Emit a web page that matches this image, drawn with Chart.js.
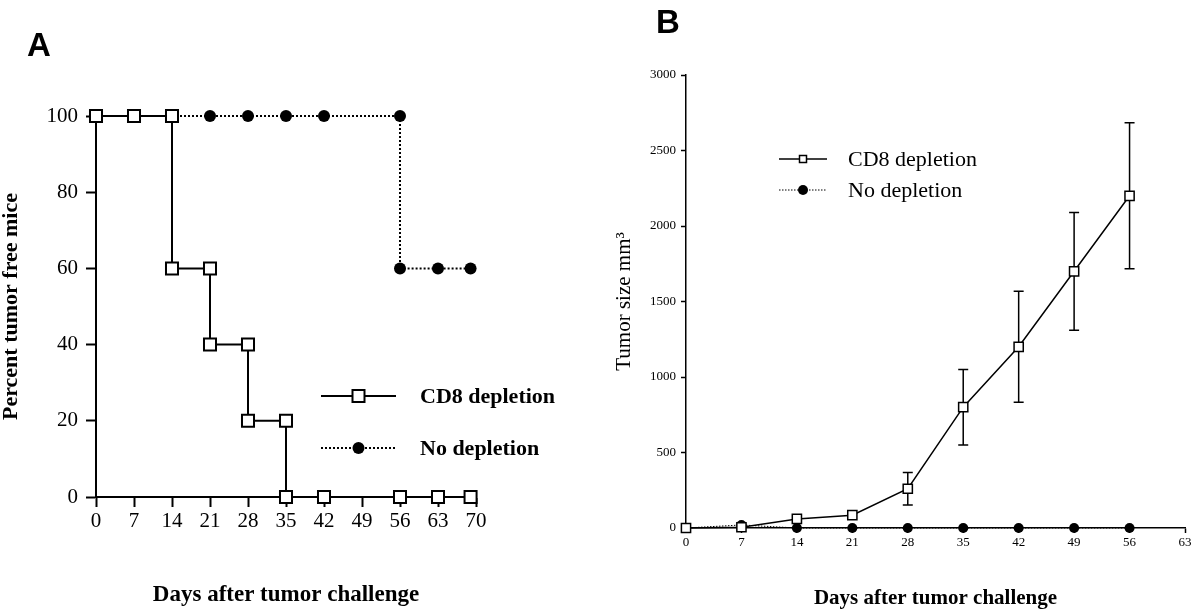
<!DOCTYPE html>
<html>
<head>
<meta charset="utf-8">
<script src="https://cdn.jsdelivr.net/npm/chart.js@4.4.1/dist/chart.umd.min.js"></script>
<style>
  html, body { margin: 0; padding: 0; background: #fff; }
  #wrap { position: relative; width: 1200px; height: 616px; }
  canvas { position: absolute; top: 0; }
</style>
</head>
<body>
<div id="wrap">
  <canvas id="chartA" width="600" height="616" style="left:0"></canvas>
  <canvas id="chartB" width="600" height="616" style="left:600px"></canvas>
</div>
<script>
// Panel A - percent tumor free mice (step curve)
const cd8Days = [0, 7, 14, 14, 21, 21, 28, 28, 35, 35, 42, 56, 63, 69];
const cd8Pct = [100, 100, 100, 60, 60, 40, 40, 20, 20, 0, 0, 0, 0, 0];
const noDepDays = [0, 7, 14, 21, 28, 35, 42, 56, 56, 63, 69];
const noDepPct = [100, 100, 100, 100, 100, 100, 100, 100, 60, 60, 60];

// Panel B - tumor size
const sizeDays = [0, 7, 14, 21, 28, 35, 42, 49, 56];
const cd8Size = [0, 5, 60, 85, 260, 800, 1200, 1700, 2200];
const cd8Err = [0, 0, 0, 0, 108, 250, 368, 390, 483];
const noDepSize = [0, 20, 0, 0, 0, 0, 0, 0, 0];

const seriesNames = ['CD8 depletion', 'No depletion'];
const xTitle = 'Days after tumor challenge';

const serif = '"Liberation Serif", "Times New Roman", serif';

const toXY = (xs, ys) => xs.map((x, i) => ({ x: x, y: ys[i] }));

// draws the legend and the panel letter
const legendPlugin = {
  id: 'handLegend',
  afterDraw(chart, args, opts) {
    const ctx = chart.ctx;
    ctx.save();
    opts.items.forEach(it => {
      ctx.strokeStyle = '#000';
      ctx.lineWidth = it.lineWidth;
      ctx.setLineDash(it.dash);
      ctx.beginPath();
      ctx.moveTo(it.x1, it.y);
      ctx.lineTo(it.x2, it.y);
      ctx.stroke();
      ctx.setLineDash([]);
      const mx = (it.x1 + it.x2) / 2;
      ctx.beginPath();
      if (it.marker === 'rect') {
        ctx.fillStyle = '#fff';
        ctx.rect(mx - it.size / 2, it.y - it.size / 2, it.size, it.size);
        ctx.fill();
        ctx.lineWidth = it.markerWidth;
        ctx.stroke();
      } else {
        ctx.fillStyle = '#000';
        ctx.arc(mx, it.y, it.size / 2, 0, Math.PI * 2);
        ctx.fill();
      }
      ctx.fillStyle = '#000';
      ctx.font = it.font;
      ctx.textAlign = 'left';
      ctx.textBaseline = 'middle';
      ctx.fillText(it.text, it.tx, it.y + 1);
    });
    ctx.font = 'bold 33px "Liberation Sans", Arial, sans-serif';
    ctx.textBaseline = 'alphabetic';
    ctx.fillStyle = '#000';
    ctx.fillText(opts.letter.text, opts.letter.x, opts.letter.y);
    ctx.restore();
  }
};

// error bars for panel B
const errorBarPlugin = {
  id: 'errorBars',
  beforeDatasetsDraw(chart) {
    const { ctx, scales: { x, y } } = chart;
    ctx.save();
    ctx.strokeStyle = '#000';
    ctx.lineWidth = 1.5;
    sizeDays.forEach((d, i) => {
      const e = cd8Err[i];
      if (!e) return;
      const px = x.getPixelForValue(d);
      const top = y.getPixelForValue(cd8Size[i] + e);
      const bot = y.getPixelForValue(cd8Size[i] - e);
      ctx.beginPath();
      ctx.moveTo(px, top); ctx.lineTo(px, bot);
      ctx.moveTo(px - 5, top); ctx.lineTo(px + 5, top);
      ctx.moveTo(px - 5, bot); ctx.lineTo(px + 5, bot);
      ctx.stroke();
    });
    ctx.restore();
  }
};

function axis(opts) {
  return {
    type: 'linear',
    min: opts.min,
    max: opts.max,
    afterFit: opts.fit,
    border: { display: true, color: '#000', width: opts.lw },
    grid: {
      display: true,
      drawOnChartArea: false,
      drawTicks: true,
      tickLength: opts.tick,
      tickColor: '#000',
      tickWidth: opts.lw
    },
    ticks: {
      stepSize: opts.step,
      color: '#000',
      padding: opts.pad,
      font: { family: serif, size: opts.fontSize },
      maxRotation: 0,
      autoSkip: false,
      callback: v => String(v)
    },
    title: {
      display: true,
      text: opts.title,
      color: '#000',
      font: { family: serif, size: opts.titleSize, weight: opts.titleWeight },
      padding: opts.titlePad
    }
  };
}

new Chart(document.getElementById('chartA'), {
  type: 'line',
  data: {
    datasets: [
      {
        label: seriesNames[0],
        data: toXY(cd8Days, cd8Pct),
        borderColor: '#000',
        borderWidth: 2,
        pointStyle: 'rect',
        pointRadius: 8.5,
        pointBorderWidth: 2,
        pointBorderColor: '#000',
        pointBackgroundColor: '#fff',
        clip: false
      },
      {
        label: seriesNames[1],
        data: toXY(noDepDays, noDepPct),
        borderColor: '#000',
        borderWidth: 2,
        borderDash: [2, 2],
        pointStyle: 'circle',
        pointRadius: 6,
        pointBorderWidth: 0,
        pointBackgroundColor: '#000',
        clip: false
      }
    ]
  },
  options: {
    responsive: false,
    animation: false,
    layout: { padding: { left: 0, right: 124, top: 116, bottom: 0 } },
    plugins: {
      legend: { display: false },
      tooltip: { enabled: false },
      handLegend: {
        letter: { text: 'A', x: 27, y: 56 },
        items: [
          { x1: 321, x2: 396, y: 396, dash: [], lineWidth: 2, marker: 'rect', size: 12, markerWidth: 2,
            text: seriesNames[0], tx: 420, font: 'bold 22px ' + serif },
          { x1: 321, x2: 396, y: 448, dash: [2, 2], lineWidth: 2, marker: 'circle', size: 12,
            text: seriesNames[1], tx: 420, font: 'bold 22px ' + serif }
        ]
      }
    },
    scales: {
      x: axis({ min: 0, max: 70, step: 7, lw: 2, tick: 10, pad: 2, fontSize: 21,
        title: xTitle, titleSize: 23, titleWeight: 'bold', titlePad: { top: 0, bottom: 7 },
        fit: s => { s.height = 119; } }),
      y: axis({ min: 0, max: 100, step: 20, lw: 2, tick: 10, pad: 8, fontSize: 21,
        title: 'Percent tumor free mice', titleSize: 22, titleWeight: 'bold', titlePad: { top: -2, bottom: 0 },
        fit: s => { s.width = 96; } })
    }
  },
  plugins: [legendPlugin]
});

new Chart(document.getElementById('chartB'), {
  type: 'line',
  data: {
    datasets: [
      {
        label: seriesNames[0],
        data: toXY(sizeDays, cd8Size),
        borderColor: '#000',
        borderWidth: 1.5,
        pointStyle: 'rect',
        pointRadius: 6.5,
        pointBorderWidth: 1.5,
        pointBorderColor: '#000',
        pointBackgroundColor: '#fff',
        clip: false
      },
      {
        label: seriesNames[1],
        data: toXY(sizeDays, noDepSize),
        borderColor: '#000',
        borderWidth: 1,
        borderDash: [1.5, 1.5],
        pointStyle: 'circle',
        pointRadius: 5,
        pointBorderWidth: 0,
        pointBackgroundColor: '#000',
        clip: false
      }
    ]
  },
  options: {
    responsive: false,
    animation: false,
    layout: { padding: { left: 0, right: 15, top: 75, bottom: 0 } },
    plugins: {
      legend: { display: false },
      tooltip: { enabled: false },
      handLegend: {
        letter: { text: 'B', x: 56, y: 33 },
        items: [
          { x1: 179, x2: 227, y: 159, dash: [], lineWidth: 1.5, marker: 'rect', size: 7, markerWidth: 1.5,
            text: seriesNames[0], tx: 248, font: '22px ' + serif },
          { x1: 179, x2: 227, y: 190, dash: [1.5, 1.5], lineWidth: 1, marker: 'circle', size: 10,
            text: seriesNames[1], tx: 248, font: '22px ' + serif }
        ]
      }
    },
    scales: {
      x: axis({ min: 0, max: 63, step: 7, lw: 1.5, tick: 5, pad: 2, fontSize: 13,
        title: xTitle, titleSize: 21, titleWeight: 'bold', titlePad: { top: 0, bottom: 5 },
        fit: s => { s.height = 88; } }),
      y: axis({ min: 0, max: 3000, step: 500, lw: 1.5, tick: 5, pad: 5, fontSize: 13,
        title: 'Tumor size mm³', titleSize: 21, titleWeight: 'normal', titlePad: { top: 12, bottom: 0 },
        fit: s => { s.width = 86; } })
    }
  },
  plugins: [legendPlugin, errorBarPlugin]
});
</script>
</body>
</html>
